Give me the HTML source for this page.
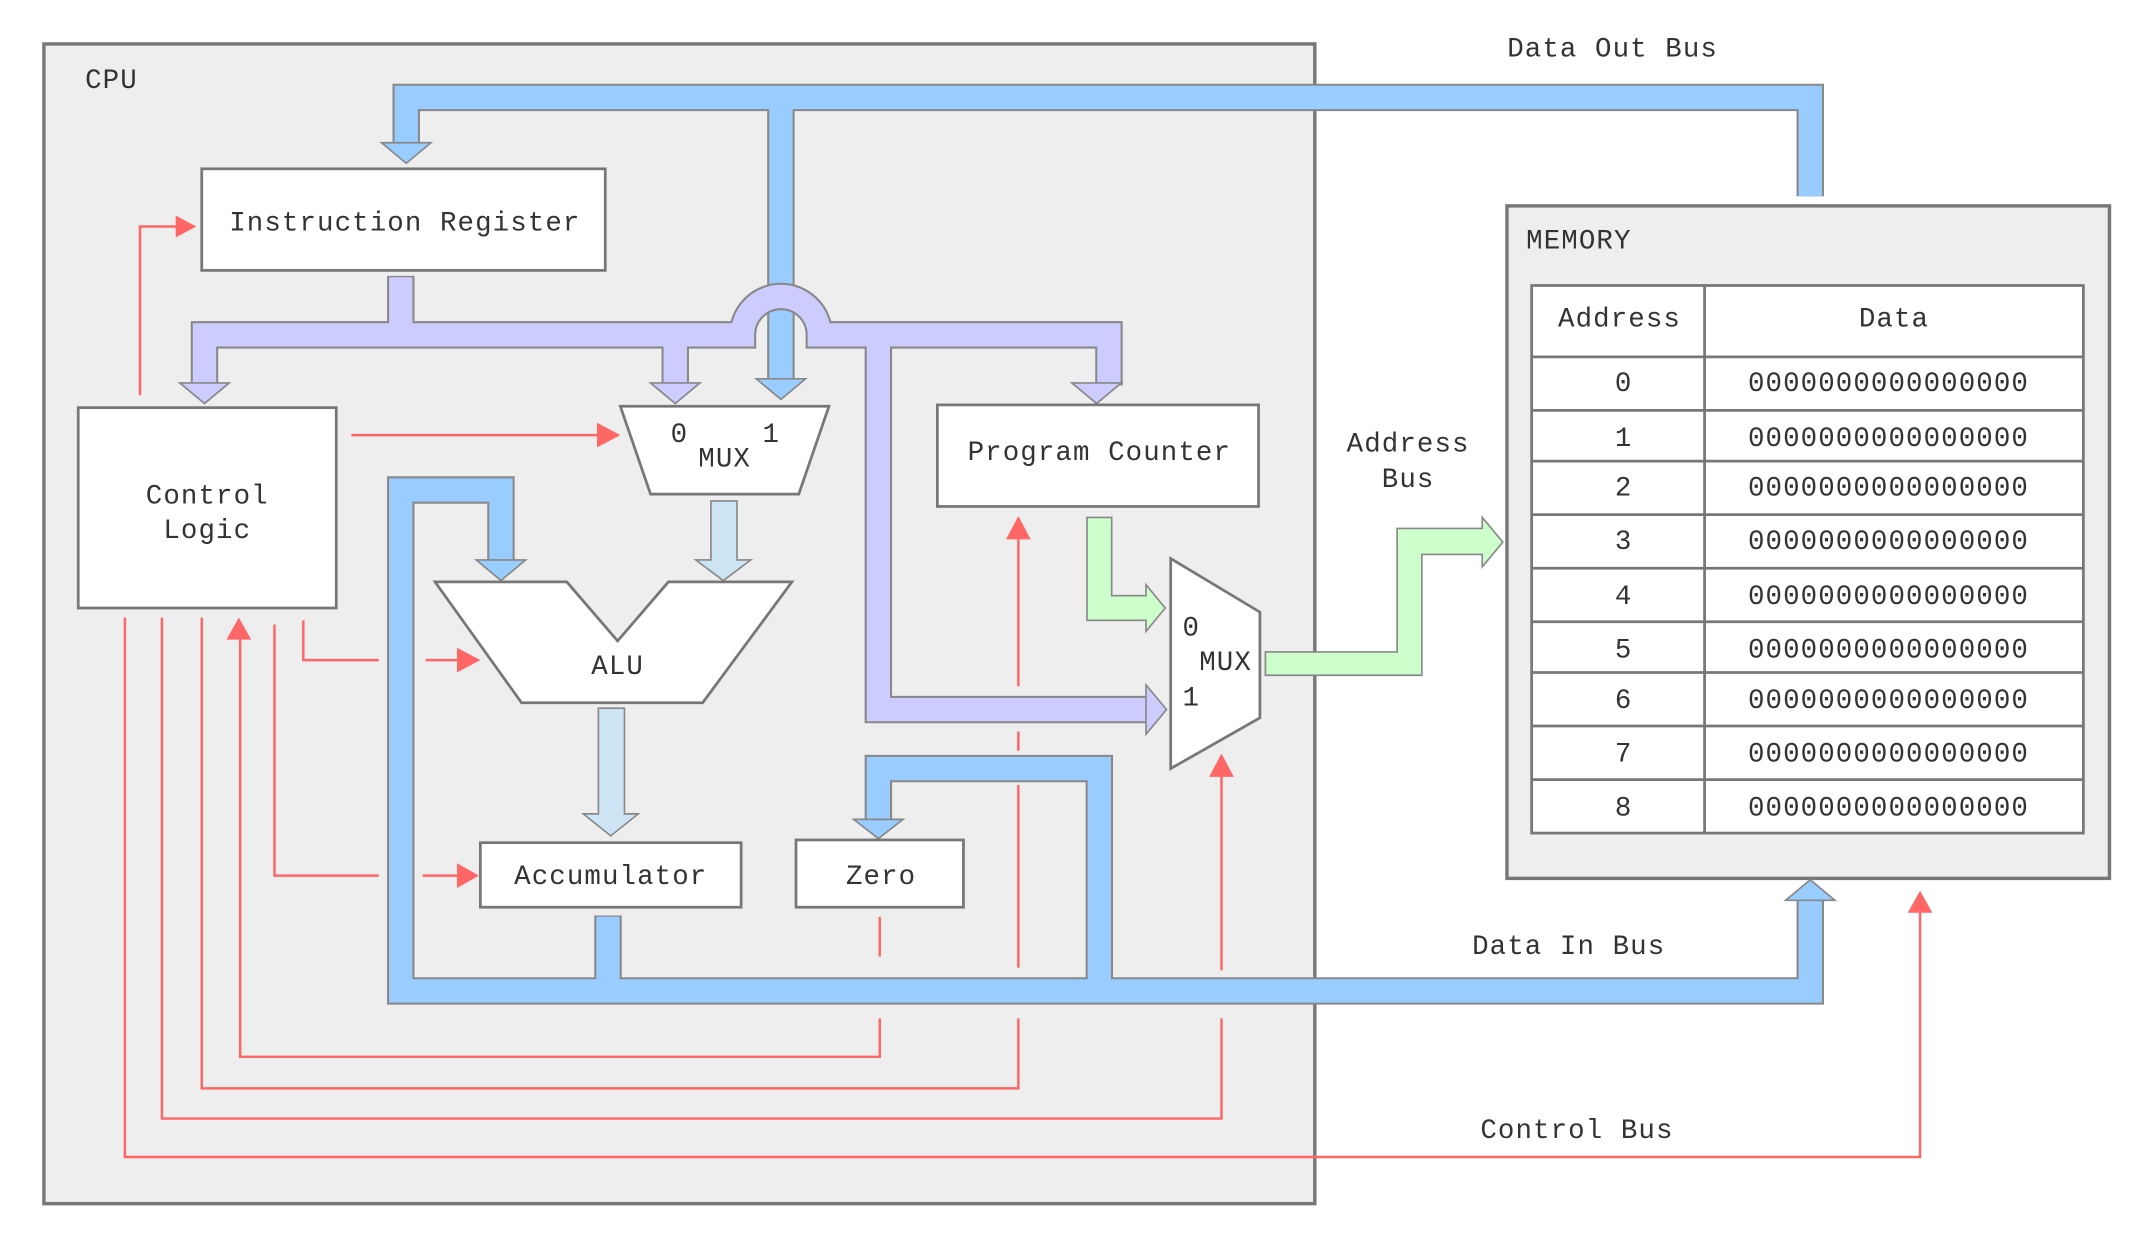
<!DOCTYPE html>
<html><head><meta charset="utf-8"><style>html,body{margin:0;padding:0;background:#fff}svg{display:block}text{font-family:"Liberation Mono",monospace;font-size:20px;letter-spacing:0.8px;fill:#333}</style></head>
<body>
<svg width="2152" height="1248" viewBox="0 0 1568 909.3" xmlns="http://www.w3.org/2000/svg">
<rect x="32" y="32" width="926" height="845" fill="#eeeeee" stroke="#777" stroke-width="2.5"/>
<text x="62" y="64">CPU</text>
<rect x="1098" y="150" width="439" height="490" fill="#eeeeee" stroke="#777" stroke-width="2.5"/>
<text x="1112" y="181">MEMORY</text>
<g fill="#fff" stroke="#777" stroke-width="2">
<rect x="1116" y="208" width="402" height="399"/>
</g>
<g stroke="#777" stroke-width="2">
<line x1="1242" y1="208" x2="1242" y2="607"/>
<line x1="1116" y1="260" x2="1518" y2="260"/>
<line x1="1116" y1="299" x2="1518" y2="299"/>
<line x1="1116" y1="336" x2="1518" y2="336"/>
<line x1="1116" y1="375" x2="1518" y2="375"/>
<line x1="1116" y1="414" x2="1518" y2="414"/>
<line x1="1116" y1="453" x2="1518" y2="453"/>
<line x1="1116" y1="490" x2="1518" y2="490"/>
<line x1="1116" y1="529" x2="1518" y2="529"/>
<line x1="1116" y1="568" x2="1518" y2="568"/>
</g>
<g text-anchor="middle">
<text x="1180" y="238">Address</text><text x="1380" y="238">Data</text>
<text x="1183" y="285">0</text><text x="1376" y="285">0000000000000000</text>
<text x="1183" y="325">1</text><text x="1376" y="325">0000000000000000</text>
<text x="1183" y="361">2</text><text x="1376" y="361">0000000000000000</text>
<text x="1183" y="400">3</text><text x="1376" y="400">0000000000000000</text>
<text x="1183" y="440">4</text><text x="1376" y="440">0000000000000000</text>
<text x="1183" y="479">5</text><text x="1376" y="479">0000000000000000</text>
<text x="1183" y="516">6</text><text x="1376" y="516">0000000000000000</text>
<text x="1183" y="555">7</text><text x="1376" y="555">0000000000000000</text>
<text x="1183" y="594">8</text><text x="1376" y="594">0000000000000000</text>
<text x="1175" y="41">Data Out Bus</text>
<text x="1026" y="329">Address</text><text x="1026" y="355">Bus</text>
<text x="1143" y="695">Data In Bus</text>
<text x="1149" y="829">Control Bus</text>
</g>

<g stroke="#f66" stroke-width="1.8" fill="none">
<path d="M102,288 V165 H130"/>
<path d="M256,317 H437"/>
<path d="M221,452 V481 H276 M310,481 H335"/>
<path d="M200,455 V638 H276 M308,638 H335"/>
<path d="M641,668 V697 M641,742 V770 H175 V462"/>
<path d="M742,500 V388 M742,533 V547 M742,572 V705 M742,742 V793 H147 V450"/>
<path d="M890,707 V562 M890,742 V815 H118 V450"/>
<path d="M91,450 V843 H1399 V662"/>
</g>
<g fill="#f66">
<polygon points="128,157 128,173 143,165"/>
<polygon points="435,308 435,326 452,317"/>
<polygon points="333,472 333,490 350,481"/>
<polygon points="333,629 333,647 349,638"/>
<polygon points="165,466 183,466 174,450"/>
<polygon points="733,393 751,393 742,376"/>
<polygon points="881,566 899,566 890,549"/>
<polygon points="1390,665 1408,665 1399,649"/>
</g>

<g fill="none">
<path d="M1319,143 V71 H296 V106 M569,71 V278" stroke="#888" stroke-width="20"/>
<path d="M1319,143 V71 H296 V106 M569,71 V278" stroke="#99ccff" stroke-width="17"/>
</g>
<g fill="#99ccff" stroke="#888" stroke-width="1.2">
<polygon points="278,104 314,104 296,119"/>
<polygon points="551,276 587,276 569,291"/>
</g>

<g fill="none">
<path d="M292,201 V244 M149,281 V244 H541 A28,28 0 0 1 597,244 H808 V281 M492,244 V281 M640,244 V517 H836" stroke="#888" stroke-width="20"/>
<path d="M292,202 V244 M149,281 V244 H541 A28,28 0 0 1 597,244 H808 V281 M492,244 V281 M640,244 V517 H836" stroke="#ccccff" stroke-width="17"/>
</g>
<g fill="#ccccff" stroke="#888" stroke-width="1.2">
<polygon points="131,279 167,279 149,294"/>
<polygon points="474,279 510,279 492,294"/>
<polygon points="781,279 817,279 799,294"/>
<polygon points="835,499 835,535 850,517"/>
</g>

<g fill="none">
<path d="M365,409 V357 H292 V722 H1319 V655 M443,667 V722 M801,722 V560 H640 V598" stroke="#888" stroke-width="20"/>
<path d="M365,410 V357 H292 V722 H1319 V654 M443,668 V722 M801,722 V560 H640 V599" stroke="#99ccff" stroke-width="17"/>
</g>
<g fill="#99ccff" stroke="#888" stroke-width="1.2">
<polygon points="347,408 383,408 365,423"/>
<polygon points="1301,656 1337,656 1319,641"/>
<polygon points="622,597 658,597 640,611"/>
</g>

<g fill="#cce4f4" stroke="#888" stroke-width="1.2">
<path d="M518,365 H537 V408 H547 L527,423 L507,408 H518 Z"/>
<path d="M436,516 H455 V593 H465 L445,609 L425,593 H436 Z"/>
</g>

<g fill="#ccffcc" stroke="#888" stroke-width="1.2">
<path d="M792,377 H810 V434 H835 V426 L849,443 L835,460 V452 H792 Z"/>
<path d="M922,475 H1018 V385 H1080 V377 L1095,395 L1080,413 V404 H1036 V492 H922 Z"/>
</g>

<g fill="#fff" stroke="#777" stroke-width="2">
<rect x="147" y="123" width="294" height="74"/>
<rect x="57" y="297" width="188" height="146"/>
<rect x="683" y="295" width="234" height="74"/>
<rect x="350" y="614" width="190" height="47"/>
<rect x="580" y="612" width="122" height="49"/>
<polygon points="452,296 604,296 582,360 474,360"/>
<polygon points="317,424 413,424 450,467 487,424 577,424 512,512 380,512"/>
<polygon points="853,407 918,446 918,523 853,560"/>
</g>
<g text-anchor="middle">
<text x="295" y="168">Instruction Register</text>
<text x="151" y="367">Control</text><text x="151" y="392">Logic</text>
<text x="801" y="335">Program Counter</text>
<text x="445" y="644">Accumulator</text>
<text x="642" y="644">Zero</text>
<text x="495" y="322">0</text><text x="562" y="322">1</text><text x="528" y="340">MUX</text>
<text x="450" y="491">ALU</text>
<text x="868" y="463">0</text><text x="893" y="488">MUX</text><text x="868" y="514">1</text>
</g>
</svg>
</body></html>
